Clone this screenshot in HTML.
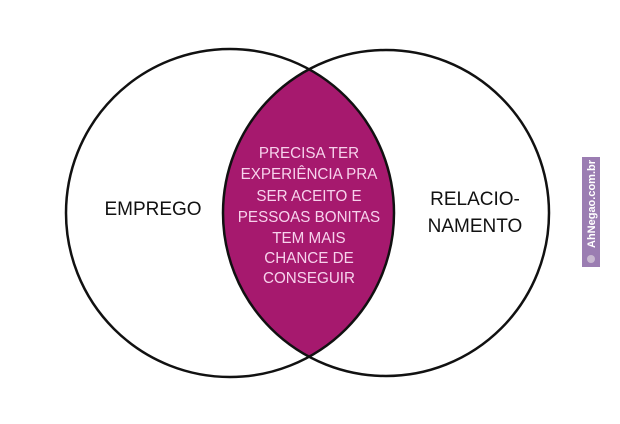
<!DOCTYPE html>
<html><head><meta charset="utf-8"><style>
html,body{margin:0;padding:0;background:#fff;width:620px;height:424px;overflow:hidden}
</style></head><body>
<svg width="620" height="424" xmlns="http://www.w3.org/2000/svg" style="display:block">
<defs><clipPath id="c"><circle cx="230" cy="213" r="164"/></clipPath></defs>
<circle cx="386" cy="213" r="163" fill="#a6196e" clip-path="url(#c)"/>
<circle cx="230" cy="213" r="164" fill="none" stroke="#111" stroke-width="2.5"/>
<circle cx="386" cy="213" r="163" fill="none" stroke="#111" stroke-width="2.5"/>
<g font-family="Liberation Sans, sans-serif" text-anchor="middle">
<text x="153" y="215" font-size="19" fill="#111">EMPREGO</text>
<text x="475" y="205" font-size="19" fill="#111">RELACIO-</text>
<text x="475" y="232" font-size="19" fill="#111">NAMENTO</text>
<g font-size="16" fill="#f7d2ec" transform="translate(309 0) scale(0.95 1) translate(-309 0)">
<text x="309" y="158">PRECISA TER</text>
<text x="309" y="179">EXPERIÊNCIA PRA</text>
<text x="309" y="201">SER ACEITO E</text>
<text x="309" y="222">PESSOAS BONITAS</text>
<text x="309" y="243">TEM MAIS</text>
<text x="309" y="263">CHANCE DE</text>
<text x="309" y="283">CONSEGUIR</text>
</g>
</g>
<rect x="582" y="157" width="18" height="110" fill="#9b7db2"/>
<text x="0" y="0" font-family="Liberation Sans, sans-serif" font-size="11" font-weight="bold" fill="#fff" text-anchor="middle" transform="translate(595 204) rotate(-90)">AhNegao.com.br</text>
<circle cx="591" cy="259" r="4" fill="#c8b8d0"/>
</svg>
</body></html>
